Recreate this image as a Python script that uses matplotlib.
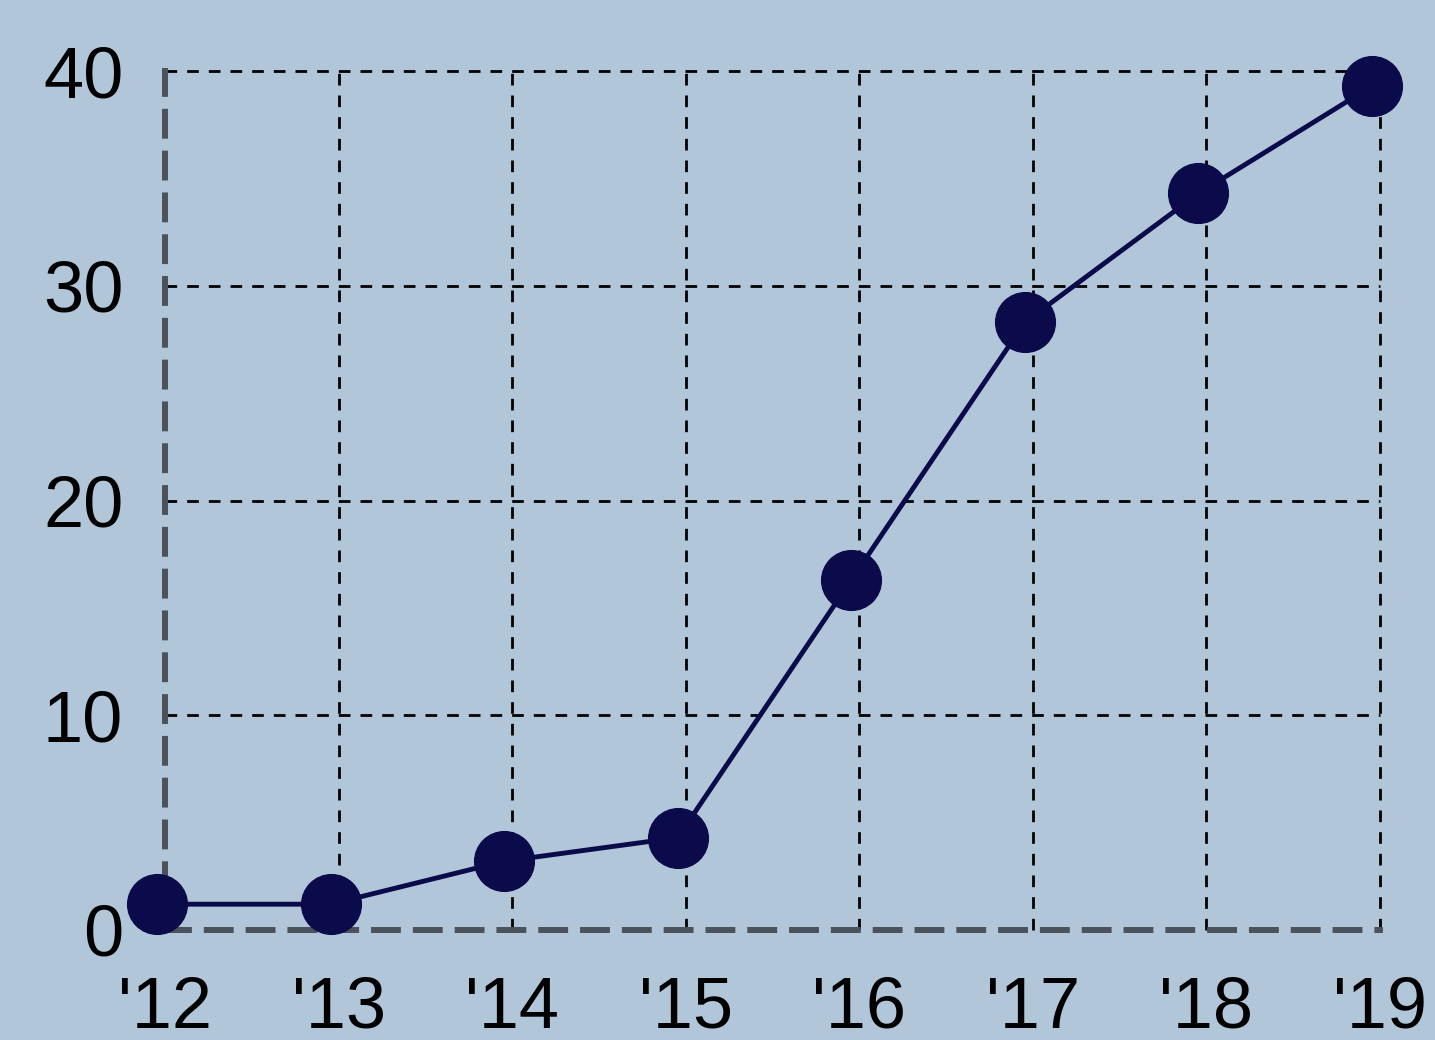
import matplotlib.pyplot as plt
from matplotlib.transforms import ScaledTranslation

years = [2012, 2013, 2014, 2015, 2016, 2017, 2018, 2019]
values = [1.2, 1.2, 3.2, 4.3, 16.3, 28.3, 34.3, 39.3]
year_labels = ["'12", "'13", "'14", "'15", "'16", "'17", "'18", "'19"]
y_ticks = [0, 10, 20, 30, 40]

bg = '#b1c6d8'
navy = '#0b0a4b'

plt.rcParams['font.family'] = ['Liberation Sans', 'DejaVu Sans']

fig = plt.figure(figsize=(14.35, 10.4), dpi=100, facecolor=bg)
ax = fig.add_axes([0.115, 0.1058, 0.8467, 0.8259], facecolor=bg)

# markers sit a little left of the grid in the original
shift = ScaledTranslation(-8 / 100, 0, fig.dpi_scale_trans)
ax.plot(years, values, color=navy, lw=3.5, marker='o', ms=43, zorder=5,
        clip_on=False, transform=ax.transData + shift)

ax.set_xlim(2012, 2019)
ax.set_ylim(0, 40)
ax.set_xticks(years)
ax.set_xticklabels(year_labels)
ax.set_yticks(y_ticks)
ax.tick_params(length=0, labelsize=52)
ax.tick_params(axis='y', pad=30)
ax.tick_params(axis='x', pad=33)

ax.grid(True, color='black', lw=2, linestyle=(0, (4.2, 3.6)))
for gl in ax.get_xgridlines() + ax.get_ygridlines():
    gl.set_clip_on(False)
# the spines take the place of the first grid lines
ax.get_xgridlines()[0].set_visible(False)
ax.get_ygridlines()[0].set_visible(False)

for side in ['top', 'right']:
    ax.spines[side].set_visible(False)
for side in ['left', 'bottom']:
    ax.spines[side].set_color('#4a525c')
    ax.spines[side].set_linewidth(4.3)
    ax.spines[side].set_linestyle((0, (4, 3)))
    ax.spines[side].set_zorder(4)

fig.savefig('out.png', dpi=100, facecolor=bg)
